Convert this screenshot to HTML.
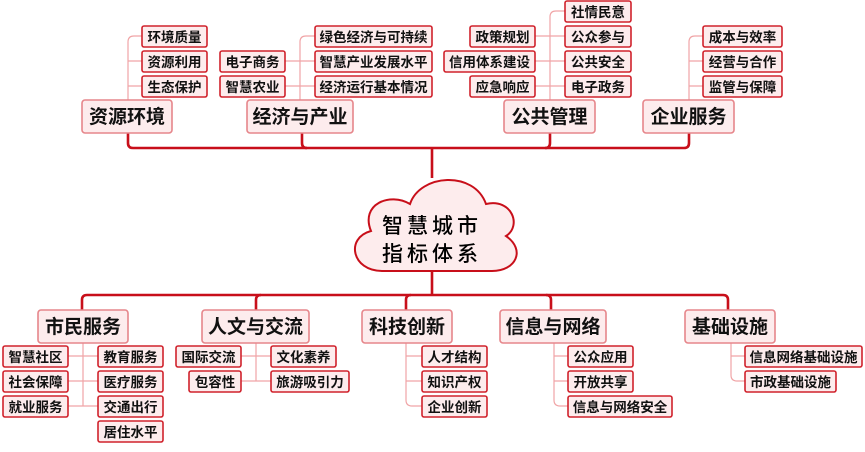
<!DOCTYPE html>
<html><head><meta charset="utf-8"><style>
html,body{margin:0;padding:0;background:#fff;}
svg{display:block;}
text{font-family:"Liberation Sans","Noto Sans CJK SC",sans-serif;font-weight:bold;fill:#111;}
.s rect{fill:#fdeced;stroke:#d0222c;stroke-width:1.6;}
.s text{font-size:13.5px;}
.m rect{fill:#fdeced;stroke:#e6868b;stroke-width:1.6;}
.m text{font-size:19px;}
.L{stroke:#c80f1a;stroke-width:2.6;fill:none;}
.l{stroke:#f0a4a6;stroke-width:1.2;fill:none;}
</style></head><body>
<svg width="865" height="452" viewBox="0 0 865 452" xmlns="http://www.w3.org/2000/svg">
<path class="L" d="M128,133 V143 Q128,148 133,148 H684 Q689,148 689,143 V133"/>
<path class="L" d="M302,133 V143 Q302,148 307,148"/>
<path class="L" d="M550,133 V143 Q550,148 545,148"/>
<path class="L" d="M432,148 V178"/>
<path class="L" d="M432,270 V295"/>
<path class="L" d="M82,310 V300 Q82,295 87,295 H723 Q728,295 728,300 V310"/>
<path class="L" d="M256,310 V300 Q256,295 261,295"/>
<path class="L" d="M406,310 V300 Q406,295 411,295"/>
<path class="L" d="M551,310 V300 Q551,295 546,295"/>

<g class="l">
<path d="M128,100 V42 Q128,36 134,36 H142 M128,61 H142 M128,86 H142"/>
<path d="M300,100 V42 Q300,36 306,36 H315 M300,61 H315 M300,86 H315 M285,61 H300 M285,86 H300"/>
<path d="M550,100 V17 Q550,11 556,11 H565 M550,36 H565 M550,61 H565 M550,86 H565 M535,36 H550 M535,61 H550 M535,86 H550"/>
<path d="M689,100 V42 Q689,36 695,36 H703 M689,61 H703 M689,86 H703"/>
<path d="M83,343 V406 M68,356 H98 M68,381 H98 M68,406 H98"/>
<path d="M256,343 V381 M241,356 H271 M241,381 H271"/>
<path d="M406,343 V400 Q406,406 412,406 H422 M406,356 H422 M406,381 H422"/>
<path d="M554,343 V400 Q554,406 560,406 H568 M554,356 H568 M554,381 H568"/>
<path d="M731,343 V375 Q731,381 737,381 H745 M731,356 H745"/>
</g>

<path d="M382,271 C352,271 345,238 371,231 C360,204 390,192 410,204 C420,174 474,170 486,204 C512,198 522,226 506,236 C526,250 516,271 492,271 Z" fill="#fdeced" stroke="#c80f1a" stroke-width="2"/>
<text x="432" y="233" text-anchor="middle" style="font-size:21px;font-weight:500;letter-spacing:4px;fill:#000">智慧城市</text>
<text x="432" y="261" text-anchor="middle" style="font-size:21px;font-weight:500;letter-spacing:4px;fill:#000">指标体系</text>

<g class="m">
<rect x="82" y="100" width="90" height="33" rx="3"/><text x="127" y="123" text-anchor="middle">资源环境</text>
<rect x="247" y="100" width="106" height="33" rx="3"/><text x="300" y="123" text-anchor="middle">经济与产业</text>
<rect x="504" y="100" width="91" height="33" rx="3"/><text x="549.5" y="123" text-anchor="middle">公共管理</text>
<rect x="643" y="100" width="91" height="33" rx="3"/><text x="688.5" y="123" text-anchor="middle">企业服务</text>
<rect x="38" y="310" width="90" height="33" rx="3"/><text x="83" y="333" text-anchor="middle">市民服务</text>
<rect x="202" y="310" width="107" height="33" rx="3"/><text x="255.5" y="333" text-anchor="middle">人文与交流</text>
<rect x="362" y="310" width="90" height="33" rx="3"/><text x="407" y="333" text-anchor="middle">科技创新</text>
<rect x="500" y="310" width="106" height="33" rx="3"/><text x="553" y="333" text-anchor="middle">信息与网络</text>
<rect x="685" y="310" width="90" height="33" rx="3"/><text x="730" y="333" text-anchor="middle">基础设施</text>
</g>

<g class="s">
<rect x="142" y="26" width="65" height="21" rx="2"/><text x="174.5" y="42" text-anchor="middle">环境质量</text>
<rect x="142" y="51" width="65" height="21" rx="2"/><text x="174.5" y="67" text-anchor="middle">资源利用</text>
<rect x="142" y="76" width="65" height="21" rx="2"/><text x="174.5" y="92" text-anchor="middle">生态保护</text>

<rect x="220" y="51" width="65" height="21" rx="2"/><text x="252.5" y="67" text-anchor="middle">电子商务</text>
<rect x="220" y="76" width="65" height="21" rx="2"/><text x="252.5" y="92" text-anchor="middle">智慧农业</text>
<rect x="315" y="26" width="117" height="21" rx="2"/><text x="373.5" y="42" text-anchor="middle">绿色经济与可持续</text>
<rect x="315" y="51" width="117" height="21" rx="2"/><text x="373.5" y="67" text-anchor="middle">智慧产业发展水平</text>
<rect x="315" y="76" width="117" height="21" rx="2"/><text x="373.5" y="92" text-anchor="middle">经济运行基本情况</text>

<rect x="470" y="26" width="65" height="21" rx="2"/><text x="502.5" y="42" text-anchor="middle">政策规划</text>
<rect x="444" y="51" width="91" height="21" rx="2"/><text x="489.5" y="67" text-anchor="middle">信用体系建设</text>
<rect x="470" y="76" width="65" height="21" rx="2"/><text x="502.5" y="92" text-anchor="middle">应急响应</text>
<rect x="565" y="1" width="66" height="21" rx="2"/><text x="598" y="17" text-anchor="middle">社情民意</text>
<rect x="565" y="26" width="66" height="21" rx="2"/><text x="598" y="42" text-anchor="middle">公众参与</text>
<rect x="565" y="51" width="66" height="21" rx="2"/><text x="598" y="67" text-anchor="middle">公共安全</text>
<rect x="565" y="76" width="66" height="21" rx="2"/><text x="598" y="92" text-anchor="middle">电子政务</text>

<rect x="703" y="26" width="79" height="21" rx="2"/><text x="742.5" y="42" text-anchor="middle">成本与效率</text>
<rect x="703" y="51" width="79" height="21" rx="2"/><text x="742.5" y="67" text-anchor="middle">经营与合作</text>
<rect x="703" y="76" width="79" height="21" rx="2"/><text x="742.5" y="92" text-anchor="middle">监管与保障</text>

<rect x="3" y="346" width="65" height="21" rx="2"/><text x="35.5" y="362" text-anchor="middle">智慧社区</text>
<rect x="3" y="371" width="65" height="21" rx="2"/><text x="35.5" y="387" text-anchor="middle">社会保障</text>
<rect x="3" y="396" width="65" height="21" rx="2"/><text x="35.5" y="412" text-anchor="middle">就业服务</text>
<rect x="98" y="346" width="65" height="21" rx="2"/><text x="130.5" y="362" text-anchor="middle">教育服务</text>
<rect x="98" y="371" width="65" height="21" rx="2"/><text x="130.5" y="387" text-anchor="middle">医疗服务</text>
<rect x="98" y="396" width="65" height="21" rx="2"/><text x="130.5" y="412" text-anchor="middle">交通出行</text>
<rect x="98" y="421" width="65" height="21" rx="2"/><text x="130.5" y="437" text-anchor="middle">居住水平</text>

<rect x="176" y="346" width="65" height="21" rx="2"/><text x="208.5" y="362" text-anchor="middle">国际交流</text>
<rect x="189" y="371" width="52" height="21" rx="2"/><text x="215" y="387" text-anchor="middle">包容性</text>
<rect x="271" y="346" width="65" height="21" rx="2"/><text x="303.5" y="362" text-anchor="middle">文化素养</text>
<rect x="271" y="371" width="78" height="21" rx="2"/><text x="310" y="387" text-anchor="middle">旅游吸引力</text>

<rect x="422" y="346" width="65" height="21" rx="2"/><text x="454.5" y="362" text-anchor="middle">人才结构</text>
<rect x="422" y="371" width="65" height="21" rx="2"/><text x="454.5" y="387" text-anchor="middle">知识产权</text>
<rect x="422" y="396" width="65" height="21" rx="2"/><text x="454.5" y="412" text-anchor="middle">企业创新</text>

<rect x="568" y="346" width="65" height="21" rx="2"/><text x="600.5" y="362" text-anchor="middle">公众应用</text>
<rect x="568" y="371" width="65" height="21" rx="2"/><text x="600.5" y="387" text-anchor="middle">开放共享</text>
<rect x="568" y="396" width="104" height="21" rx="2"/><text x="620" y="412" text-anchor="middle">信息与网络安全</text>

<rect x="745" y="346" width="117" height="21" rx="2"/><text x="803.5" y="362" text-anchor="middle">信息网络基础设施</text>
<rect x="745" y="371" width="91" height="21" rx="2"/><text x="790.5" y="387" text-anchor="middle">市政基础设施</text>
</g>
</svg>
</body></html>
